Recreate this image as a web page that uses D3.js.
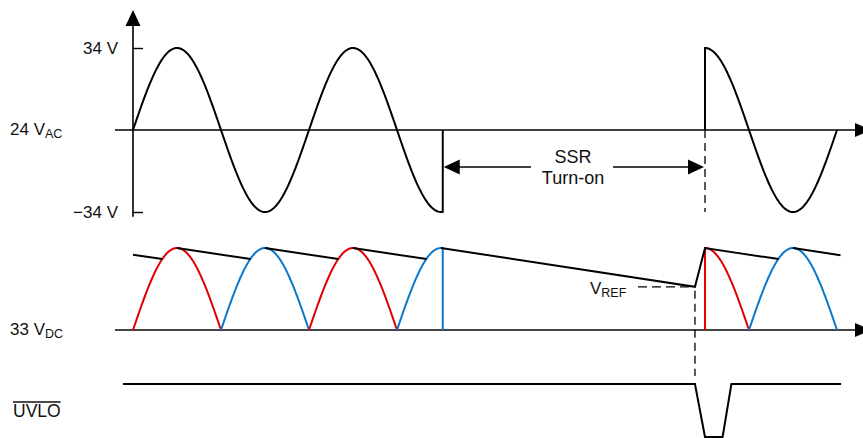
<!DOCTYPE html>
<html>
<head>
<meta charset="utf-8">
<script src="https://cdn.jsdelivr.net/npm/d3@7"></script>
<style>
  html, body { margin: 0; padding: 0; background: #fff; }
  svg { display: block; font-family: "Liberation Sans", Arial, sans-serif; }
</style>
</head>
<body>
<svg id="chart" width="863" height="438"></svg>
<script>
// ---------------- data (time in line cycles, values in volts) ----------------
const amplitude = 34;
const acTickValues = [34, -34];
const acTickLabels = ["34 V", "\u221234 V"];
// AC input segments: before the dropout and after SSR turn-on
const acSegments = [
  { t0: 0, t1: 1.76, dropAtEnd: true, riseAtStart: false },
  { t0: 3.25, t1: 4.0, dropAtEnd: false, riseAtStart: true }
];
// full-wave rectified half cycles
const rectSegments = [
  { t0: 0.0,  t1: 0.5,  color: "red",  dropAtEnd: false, riseAtStart: false },
  { t0: 0.5,  t1: 1.0,  color: "blue", dropAtEnd: false, riseAtStart: false },
  { t0: 1.0,  t1: 1.5,  color: "red",  dropAtEnd: false, riseAtStart: false },
  { t0: 1.5,  t1: 1.76, color: "blue", dropAtEnd: true,  riseAtStart: false },
  { t0: 3.25, t1: 3.5,  color: "red",  dropAtEnd: false, riseAtStart: true },
  { t0: 3.5,  t1: 4.0,  color: "blue", dropAtEnd: false, riseAtStart: false }
];
// bulk capacitor voltage (black envelope), decay pieces
const envelopeSegments = [
  [[0.0, 31.2], [0.167, 29.4]],
  [[0.25, 34], [0.668, 29.4]],
  [[0.75, 34], [1.167, 29.4]],
  [[1.25, 34], [1.668, 29.4]],
  [[1.75, 34], [3.193, 17.9], [3.25, 34], [3.668, 29.4]],
  [[3.75, 34], [4.02, 31.0]]
];
const vrefPoint = [3.193, 17.9];
const ssrStart = 1.76, ssrEnd = 3.25;
// UVLO-bar logic level (1 = high)
const uvloPoints = [[-0.057, 1], [3.193, 1], [3.25, 0], [3.35, 0], [3.40, 1], [4.023, 1]];

// ---------------- layout ----------------
const svg = d3.select("#chart");
const colors = { red: "#e30000", blue: "#0a78cc" };

const x = d3.scaleLinear().domain([0, 4]).range([133, 837]);
const yTop = d3.scaleLinear().domain([-34, 34]).range([212, 48]);
const yBot = d3.scaleLinear().domain([0, 34]).range([330, 248]);
const yU = d3.scaleLinear().domain([0, 1]).range([437, 384]);

const axisLeftX = x(0);
const axisStartX = 115, axisEndX = 856;

function samplePoints(seg, fn) {
  const n = Math.max(20, Math.round((seg.t1 - seg.t0) * 160));
  const pts = [];
  if (seg.riseAtStart) pts.push([seg.t0, 0]);
  for (let i = 0; i <= n; i++) {
    const t = seg.t0 + (seg.t1 - seg.t0) * i / n;
    pts.push([t, fn(t)]);
  }
  if (seg.dropAtEnd) pts.push([seg.t1, 0]);
  return pts;
}
const acFn = t => amplitude * Math.sin(2 * Math.PI * t);
const rectFn = t => amplitude * Math.abs(Math.sin(2 * Math.PI * t));

// ---------------- horizontal axes with arrows ----------------
function hAxis(y, color, width) {
  svg.append("line").attr("x1", axisStartX).attr("x2", axisEndX)
    .attr("y1", y).attr("y2", y).attr("stroke", color).attr("stroke-width", width);
  svg.append("path")
    .attr("d", `M${axisEndX - 1},${y - 7}L${axisEndX + 15},${y}L${axisEndX - 1},${y + 7}Z`)
    .attr("fill", "#000");
}
hAxis(yTop(0), "#000", 1.6);
hAxis(yBot(0), "#444", 2);

// vertical axis with arrow
svg.append("line").attr("x1", axisLeftX).attr("x2", axisLeftX)
  .attr("y1", 24).attr("y2", yTop(-36)).attr("stroke", "#000").attr("stroke-width", 1.6);
svg.append("path")
  .attr("d", `M${axisLeftX},10L${axisLeftX + 7.5},26L${axisLeftX - 7.5},26Z`).attr("fill", "#000");

// y ticks via d3 axis
const yAxis = d3.axisLeft(yTop)
  .tickValues(acTickValues)
  .tickFormat((d, i) => acTickLabels[i])
  .tickSizeInner(-10).tickSizeOuter(0).tickPadding(15);
const gy = svg.append("g").attr("transform", `translate(${axisLeftX},0)`).call(yAxis);
gy.select(".domain").remove();
gy.selectAll(".tick line").attr("stroke", "#000").attr("stroke-width", 1.4);
gy.selectAll(".tick text").attr("font-size", 17).attr("fill", "#111")
  .attr("font-family", "'Liberation Sans', Arial, sans-serif");

// ---------------- waveforms ----------------
const line = d3.line().x(d => x(d[0]));

acSegments.forEach(seg => {
  svg.append("path").datum(samplePoints(seg, acFn))
    .attr("d", line.y(d => yTop(d[1])))
    .attr("fill", "none").attr("stroke", "#000").attr("stroke-width", 2);
});

rectSegments.forEach(seg => {
  svg.append("path").datum(samplePoints(seg, rectFn))
    .attr("d", d3.line().x(d => x(d[0])).y(d => yBot(d[1])))
    .attr("fill", "none").attr("stroke", colors[seg.color]).attr("stroke-width", 2);
});

envelopeSegments.forEach(seg => {
  svg.append("path").datum(seg)
    .attr("d", d3.line().x(d => x(d[0])).y(d => yBot(d[1])))
    .attr("fill", "none").attr("stroke", "#000").attr("stroke-width", 2);
});

// UVLO
svg.append("path").datum(uvloPoints)
  .attr("d", d3.line().x(d => x(d[0])).y(d => yU(d[1])))
  .attr("fill", "none").attr("stroke", "#000").attr("stroke-width", 2);

// ---------------- dashed guides ----------------
svg.append("line").attr("x1", x(ssrEnd)).attr("x2", x(ssrEnd))
  .attr("y1", yTop(0)).attr("y2", yTop(-34))
  .attr("stroke", "#000").attr("stroke-width", 1.3).attr("stroke-dasharray", "8,5");
svg.append("line").attr("x1", x(vrefPoint[0])).attr("x2", x(vrefPoint[0]))
  .attr("y1", yBot(vrefPoint[1]) + 4).attr("y2", yU(1) - 8)
  .attr("stroke", "#000").attr("stroke-width", 1.3).attr("stroke-dasharray", "8,5");
svg.append("line").attr("x1", 638).attr("x2", x(vrefPoint[0]) - 2)
  .attr("y1", yBot(vrefPoint[1])).attr("y2", yBot(vrefPoint[1]))
  .attr("stroke", "#000").attr("stroke-width", 1.3).attr("stroke-dasharray", "9,5");

// ---------------- SSR turn-on dimension arrow ----------------
const ay = 167;
const xa = x(ssrStart) + 1, xb = x(ssrEnd) - 1;
svg.append("line").attr("x1", xa + 14).attr("x2", 531).attr("y1", ay).attr("y2", ay)
  .attr("stroke", "#000").attr("stroke-width", 1.6);
svg.append("line").attr("x1", 613).attr("x2", xb - 14).attr("y1", ay).attr("y2", ay)
  .attr("stroke", "#000").attr("stroke-width", 1.6);
svg.append("path").attr("d", `M${xa},${ay}L${xa + 16},${ay - 7.5}L${xa + 16},${ay + 7.5}Z`).attr("fill", "#000");
svg.append("path").attr("d", `M${xb},${ay}L${xb - 16},${ay - 7.5}L${xb - 16},${ay + 7.5}Z`).attr("fill", "#000");
svg.append("text").attr("x", 573).attr("y", 163).attr("text-anchor", "middle")
  .attr("font-size", 18).attr("fill", "#111").text("SSR");
svg.append("text").attr("x", 573).attr("y", 184).attr("text-anchor", "middle")
  .attr("font-size", 18).attr("fill", "#111").text("Turn-on");

// ---------------- labels ----------------
function subLabel(xp, yp, main, sub) {
  const t = svg.append("text").attr("x", xp).attr("y", yp).attr("font-size", 17).attr("fill", "#111");
  t.append("tspan").text(main);
  t.append("tspan").attr("font-size", 12.5).attr("dy", 3).text(sub);
  return t;
}
subLabel(10, 135, "24 V", "AC");
subLabel(10, 335, "33 V", "DC");
subLabel(590, 294, "V", "REF");

const uv = svg.append("text").attr("x", 13).attr("y", 417).attr("font-size", 17.5)
  .attr("fill", "#111").text("UVLO");
const bb = uv.node().getBBox();
svg.append("line").attr("x1", bb.x).attr("x2", bb.x + bb.width)
  .attr("y1", 402).attr("y2", 402).attr("stroke", "#111").attr("stroke-width", 1.3);
</script>
</body>
</html>
